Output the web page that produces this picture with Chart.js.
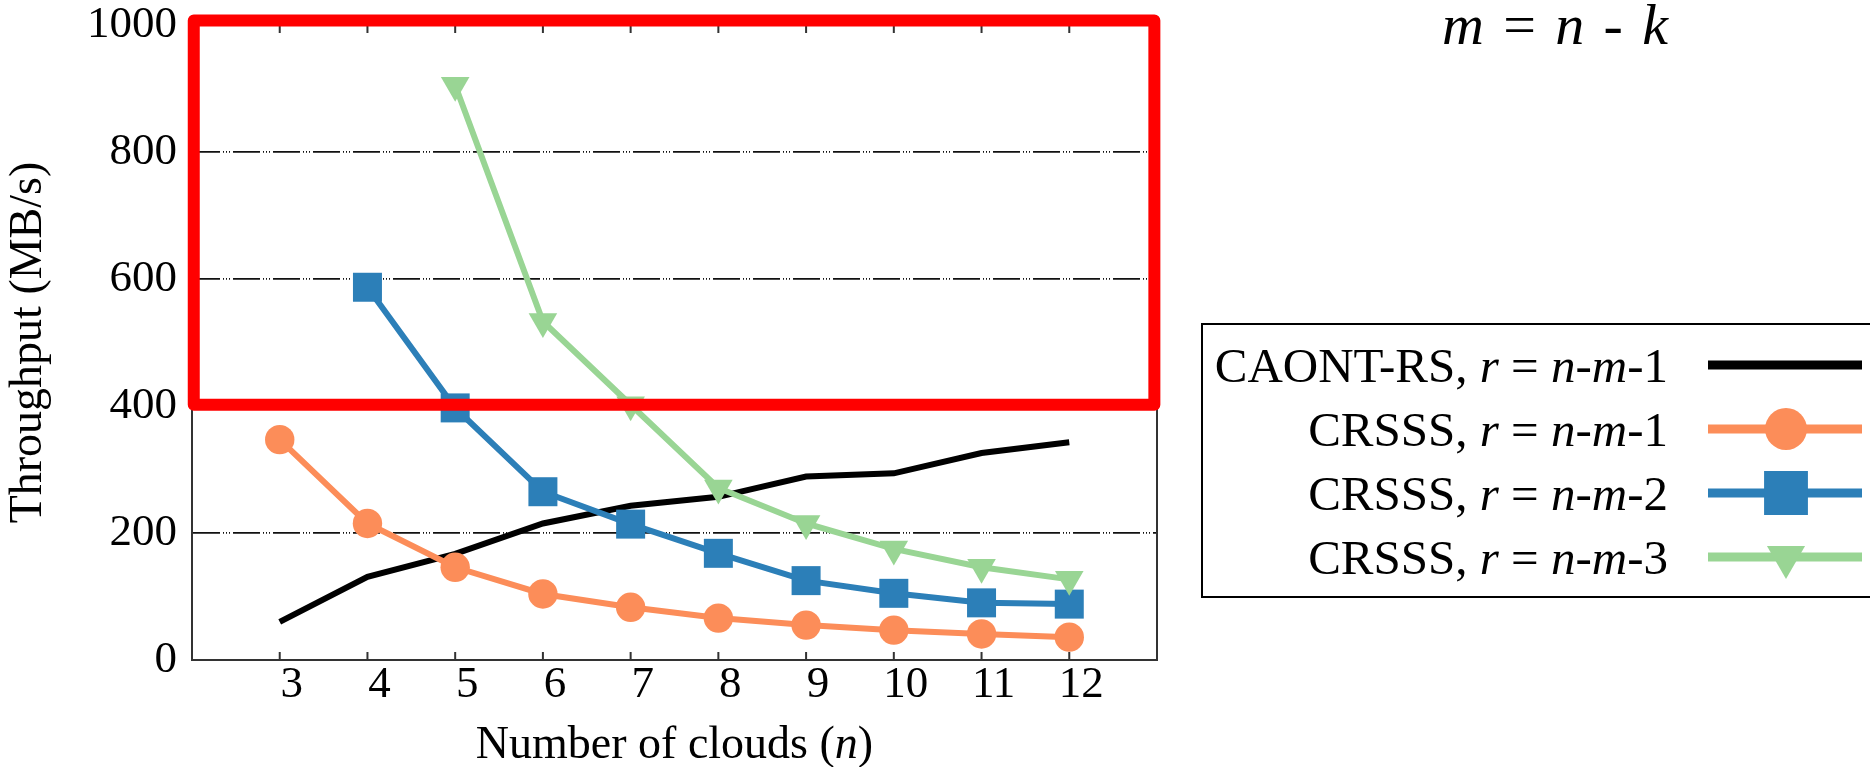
<!DOCTYPE html>
<html>
<head>
<meta charset="utf-8">
<title>Throughput vs number of clouds</title>
<script src="https://cdn.jsdelivr.net/npm/chart.js@4.4.1/dist/chart.umd.min.js"></script>
<style>
  html, body { margin: 0; padding: 0; background: #fff; }
  #wrap { width: 1870px; height: 767px; }
</style>
</head>
<body>
<div id="wrap"><canvas id="throughputChart" width="1870" height="767"></canvas></div>
<script>
// number of clouds (n)
const clouds = [3, 4, 5, 6, 7, 8, 9, 10, 11, 12];
// throughput in MB/s (null = no point for that n)
const caontRs = [60, 131, 167, 215, 243, 257, 289, 294, 326, 343];
const crsss1 = [347, 215, 146, 104, 83, 66, 55, 47, 41, 36];
const crsss2 = [null, 587, 397, 265, 214, 168, 125, 105, 90, 88];
const crsss3 = [null, null, 905, 533, 402, 271, 215, 175, 146, 127];

const yTicks = [0, 200, 400, 600, 800, 1000];
const seriesNames = ["CAONT-RS", "CRSSS", "CRSSS", "CRSSS"];
const rOffsets = ["1", "1", "2", "3"];

// red highlight box, in axis units
const boxClouds = [2.02, 12.97];
const boxThroughput = [402, 1007];

const serif = '"Liberation Serif", "Times New Roman", Times, serif';

function drawRuns(ctx, runs, x, y, size, align) {
  const fontOf = it => (it ? "italic " : "") + size + "px " + serif;
  let total = 0;
  runs.forEach(([t, it]) => {
    ctx.font = fontOf(it);
    total += ctx.measureText(t).width;
  });
  let cx = align === "right" ? x - total : align === "center" ? x - total / 2 : x;
  ctx.textAlign = "left";
  ctx.textBaseline = "alphabetic";
  ctx.fillStyle = "#000";
  runs.forEach(([t, it]) => {
    ctx.font = fontOf(it);
    ctx.fillText(t, cx, y);
    cx += ctx.measureText(t).width;
  });
}

function series(label, values, color, style, radius, order) {
  return {
    label: label,
    data: clouds.map((n, i) => ({ x: n, y: values[i] })),
    borderColor: color,
    backgroundColor: color,
    borderWidth: 6,
    pointStyle: style,
    pointRadius: radius,
    pointHoverRadius: radius,
    pointBorderWidth: 0,
    pointRotation: style === "triangle" ? 180 : 0,
    tension: 0,
    order: order,
    clip: false,
  };
}

const framePlugin = {
  id: "frame",
  beforeDatasetsDraw(chart) {
    const { ctx, chartArea: a, scales: { x } } = chart;
    ctx.save();
    ctx.strokeStyle = "#333";
    ctx.lineWidth = 2;
    ctx.beginPath();
    ctx.moveTo(a.left, a.top);
    ctx.lineTo(a.right, a.top);
    ctx.lineTo(a.right, a.bottom);
    clouds.forEach(n => {
      const px = x.getPixelForValue(n);
      ctx.moveTo(px, a.bottom);
      ctx.lineTo(px, a.bottom - 8);
      ctx.moveTo(px, a.top);
      ctx.lineTo(px, a.top + 8);
    });
    ctx.stroke();
    ctx.restore();
  },
  afterDraw(chart) {
    const { ctx, chartArea: a, scales: { x, y } } = chart;
    ctx.save();

    // red highlight
    const x1 = x.getPixelForValue(boxClouds[0]);
    const x2 = x.getPixelForValue(boxClouds[1]);
    const y1 = y.getPixelForValue(boxThroughput[1]);
    const y2 = y.getPixelForValue(boxThroughput[0]);
    ctx.strokeStyle = "#ff0000";
    ctx.lineWidth = 12;
    ctx.lineJoin = "round";
    ctx.strokeRect(x1, y1, x2 - x1, y2 - y1);

    // x axis title
    drawRuns(ctx, [["Number of clouds (", false], ["n", true], [")", false]],
      (a.left + a.right) / 2, 758, 46, "center");

    // formula
    drawRuns(ctx, [["m", true], ["\u2004=\u2004", false], ["n", true], ["\u2004-\u2004", false], ["k", true]],
      1442, 44, 58, "left");

    // legend
    ctx.strokeStyle = "#000";
    ctx.lineWidth = 2;
    ctx.lineJoin = "miter";
    ctx.strokeRect(1202, 324, 700, 273);
    const legendSizes = { circle: 21, rect: 31, triangle: 22 };
    chart.data.datasets.forEach((ds, i) => {
      const base = 382 + i * 64;
      drawRuns(ctx, [
        [seriesNames[i] + ", ", false], ["r", true], [" = ", false],
        ["n", true], ["-", false], ["m", true], ["-" + rOffsets[i], false]
      ], 1668, base, 49, "right");
      const cy = base - 17;
      ctx.strokeStyle = ds.borderColor;
      ctx.lineWidth = 9;
      ctx.beginPath();
      ctx.moveTo(1708, cy);
      ctx.lineTo(1862, cy);
      ctx.stroke();
      if (ds.pointRadius > 0) {
        ctx.fillStyle = ds.backgroundColor;
        Chart.helpers.drawPoint(ctx, {
          pointStyle: ds.pointStyle,
          radius: legendSizes[ds.pointStyle],
          rotation: ds.pointRotation,
          borderWidth: 0,
        }, 1786, cy);
      }
    });
    ctx.restore();
  },
};

const tickFont = { family: serif, size: 45, lineHeight: 1 };

new Chart(document.getElementById("throughputChart"), {
  type: "line",
  data: {
    datasets: [
      series("CAONT-RS, r = n-m-1", caontRs, "#000000", "circle", 0, 4),
      series("CRSSS, r = n-m-1", crsss1, "#fc8d59", "circle", 14.7, 3),
      series("CRSSS, r = n-m-2", crsss2, "#2c7fb8", "rect", 20.5, 2),
      series("CRSSS, r = n-m-3", crsss3, "#99d594", "triangle", 16.5, 1),
    ],
  },
  options: {
    responsive: false,
    animation: false,
    devicePixelRatio: 1,
    layout: { padding: { top: 25, right: 713, bottom: 0, left: 0 } },
    plugins: { legend: { display: false }, tooltip: { enabled: false } },
    scales: {
      x: {
        type: "linear",
        min: 2,
        max: 13,
        afterBuildTicks: s => { s.ticks = clouds.map(v => ({ value: v })); },
        afterFit: s => { s.height = 107; s.paddingLeft = 0; s.paddingRight = 0; },
        grid: { display: false, drawTicks: false },
        border: { display: true, color: "#333", width: 2 },
        ticks: {
          autoSkip: false, maxRotation: 0, padding: 3, labelOffset: 12,
          color: "#000", font: tickFont, callback: v => String(v),
        },
      },
      y: {
        min: 0,
        max: 1000,
        afterBuildTicks: s => { s.ticks = yTicks.map(v => ({ value: v })); },
        afterFit: s => { s.width = 192; s.paddingTop = 0; s.paddingBottom = 0; },
        grid: { color: "#111", lineWidth: 1.8, drawTicks: false },
        border: { display: true, color: "#333", width: 2, dash: [27, 3, 1, 2, 1, 2, 1, 3] },
        ticks: { padding: 15, color: "#000", font: tickFont, callback: v => String(v) },
        title: {
          display: true, text: "Throughput (MB/s)", color: "#000",
          font: { family: serif, size: 46, lineHeight: 1 }, padding: { top: 6, bottom: 0 },
        },
      },
    },
  },
  plugins: [framePlugin],
});
</script>
</body>
</html>
